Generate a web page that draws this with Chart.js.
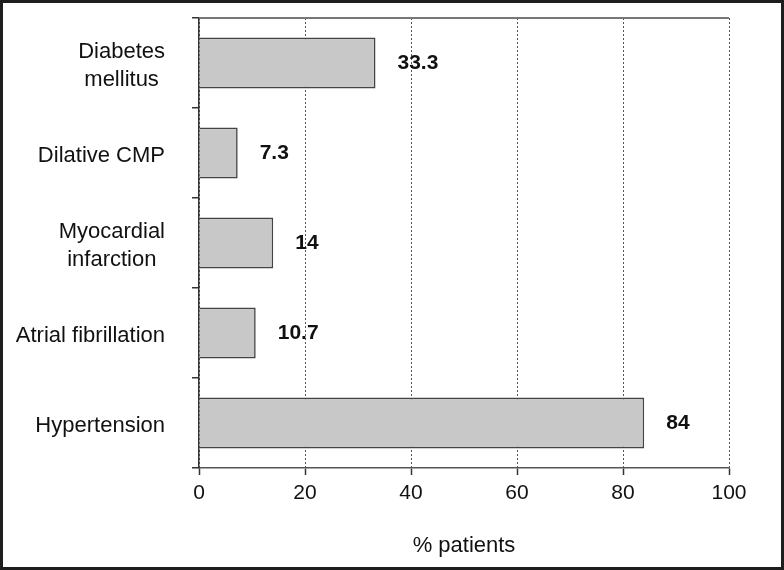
<!DOCTYPE html>
<html>
<head>
<meta charset="utf-8">
<script src="https://cdn.jsdelivr.net/npm/chart.js@4/dist/chart.umd.min.js"></script>
<style>
  html, body { margin: 0; padding: 0; background: #fff; }
  #wrap { width: 784px; height: 570px; position: relative; }
</style>
</head>
<body>
<div id="wrap"><canvas id="c" width="784" height="570"></canvas></div>
<script>
// ---- data ----
const categories = [
  ['Diabetes', 'mellitus'],
  ['Dilative CMP'],
  ['Myocardial', 'infarction'],
  ['Atrial fibrillation'],
  ['Hypertension']
];
const values = [33.3, 7.3, 14, 10.7, 84];
const valueLabels = ['33.3', '7.3', '14', '10.7', '84'];
const xTicks = [0, 20, 40, 60, 80, 100];
const xTitle = '% patients';

const FONT = "'Liberation Sans', Arial, sans-serif";

const framePlugin = {
  id: 'frame',
  beforeDraw(chart) {
    const ctx = chart.ctx;
    ctx.save();
    ctx.fillStyle = '#ffffff';
    ctx.fillRect(0, 0, chart.width, chart.height);
    ctx.restore();
  },
  afterDraw(chart) {
    const ctx = chart.ctx;
    const a = chart.chartArea;
    ctx.save();
    // top line of plot
    ctx.strokeStyle = '#777';
    ctx.lineWidth = 2;
    ctx.beginPath();
    ctx.moveTo(a.left, a.top);
    ctx.lineTo(a.right, a.top);
    ctx.stroke();
    // outer dark border
    ctx.strokeStyle = '#1e1e1e';
    ctx.lineWidth = 3;
    ctx.strokeRect(1.5, 1.5, chart.width - 3, chart.height - 3);
    ctx.restore();
  }
};

const catLabelPlugin = {
  id: 'catLabels',
  afterDraw(chart) {
    const ctx = chart.ctx;
    const y = chart.scales.y;
    ctx.save();
    ctx.font = '22px ' + FONT;
    ctx.fillStyle = '#111';
    ctx.textAlign = 'center';
    ctx.textBaseline = 'middle';
    const rightEdge = y.right - 34;
    const lh = 28;
    categories.forEach((lines, i) => {
      const cy = y.getPixelForValue(i) + 3;
      const maxW = Math.max(...lines.map(l => ctx.measureText(l).width));
      const cx = rightEdge - maxW / 2;
      const y0 = cy - (lines.length - 1) * lh / 2;
      lines.forEach((l, j) => ctx.fillText(l, cx, y0 + j * lh));
    });
    ctx.restore();
  }
};

const valueLabelPlugin = {
  id: 'valueLabels',
  afterDatasetsDraw(chart) {
    const ctx = chart.ctx;
    const meta = chart.getDatasetMeta(0);
    ctx.save();
    ctx.font = 'bold 21px ' + FONT;
    ctx.fillStyle = '#111';
    ctx.textAlign = 'left';
    ctx.textBaseline = 'middle';
    meta.data.forEach((bar, i) => {
      ctx.fillText(valueLabels[i], bar.x + 22, bar.y);
    });
    ctx.restore();
  }
};

new Chart(document.getElementById('c'), {
  type: 'bar',
  data: {
    labels: categories.map(l => l.join(' ')),
    datasets: [{
      data: values,
      backgroundColor: '#c8c8c8',
      borderColor: '#444',
      borderWidth: 1.6,
      barPercentage: 0.565,
      categoryPercentage: 1
    }]
  },
  options: {
    indexAxis: 'y',
    responsive: false,
    animation: false,
    devicePixelRatio: 1,
    layout: { padding: { left: 3, right: 55, top: 18, bottom: 11 } },
    plugins: {
      legend: { display: false },
      tooltip: { enabled: false }
    },
    scales: {
      x: {
        type: 'linear',
        min: 0,
        max: 100,
        afterBuildTicks(scale) { scale.ticks = xTicks.map(v => ({ value: v })); },
        afterFit(scale) { scale.height = 91; },
        ticks: {
          color: '#111',
          font: { family: FONT, size: 21 },
          padding: 6,
          maxRotation: 0
        },
        grid: {
          color: '#555',
          lineWidth: 1,
          tickLength: 7,
          tickColor: '#333',
          tickWidth: 1.5,
          tickBorderDash: []
        },
        border: { display: true, color: '#555', width: 1.5, dash: [2, 2] },
        title: {
          display: true,
          text: xTitle,
          color: '#111',
          font: { family: FONT, size: 22 },
          padding: { top: 0, bottom: 0 }
        }
      },
      y: {
        type: 'category',
        afterFit(scale) { scale.width = 196; },
        ticks: { display: false },
        grid: {
          offset: true,
          drawOnChartArea: false,
          drawTicks: true,
          tickLength: 7,
          color: '#333',
          lineWidth: 1.5
        },
        border: { display: true, color: '#333', width: 1.5 }
      }
    }
  },
  plugins: [framePlugin, catLabelPlugin, valueLabelPlugin]
});
</script>
</body>
</html>
